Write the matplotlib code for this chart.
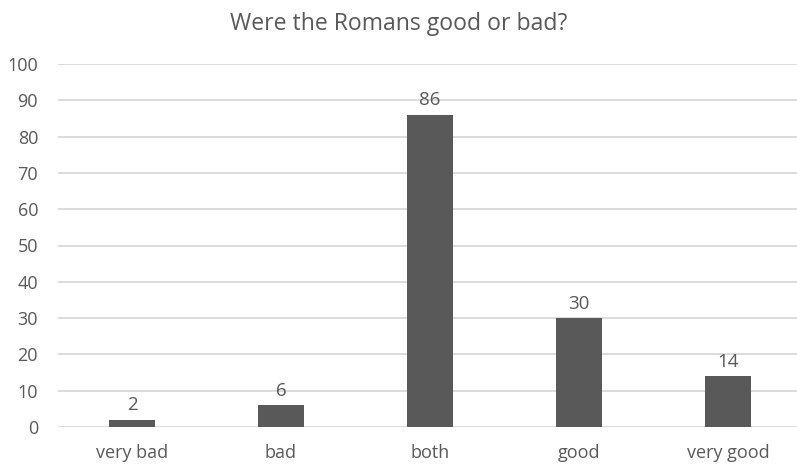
import matplotlib
matplotlib.use('Agg')
import matplotlib.pyplot as plt

categories = ['very bad', 'bad', 'both', 'good', 'very good']
values = [2, 6, 86, 30, 14]
yticks = [0, 10, 20, 30, 40, 50, 60, 70, 80, 90, 100]

plt.rcParams['font.family'] = ['Open Sans', 'DejaVu Sans']
txt = '#595959'

fig = plt.figure(figsize=(7.97, 4.67), dpi=100)
ax = fig.add_axes([57.5 / 797, 40 / 467, 745 / 797, 363 / 467])

x = list(range(len(categories)))
ax.bar(x, values, width=0.31, color='#595959', zorder=3)
for xi, v in zip(x, values):
    ax.annotate(str(v), (xi, v), xytext=(0, 4), textcoords='offset points',
                ha='center', va='bottom', fontsize=13.5, color=txt)

ax.set_xlim(-0.5, len(categories) - 0.5)
ax.set_ylim(0, 100)
ax.set_yticks(yticks)
ax.set_xticks(x)
ax.set_xticklabels(categories)
ax.grid(axis='y', color='#d9d9d9', linewidth=1.3, zorder=0)
for s in ax.spines.values():
    s.set_visible(False)
ax.tick_params(length=0, labelsize=13, colors=txt)
ax.tick_params(axis='y', pad=14)
ax.tick_params(axis='x', pad=12)

fig.text(0.5, 1 - 24 / 467, 'Were the Romans good or bad?', ha='center', va='center',
         fontsize=16.6, color=txt)

fig.savefig('out.png', dpi=100)
